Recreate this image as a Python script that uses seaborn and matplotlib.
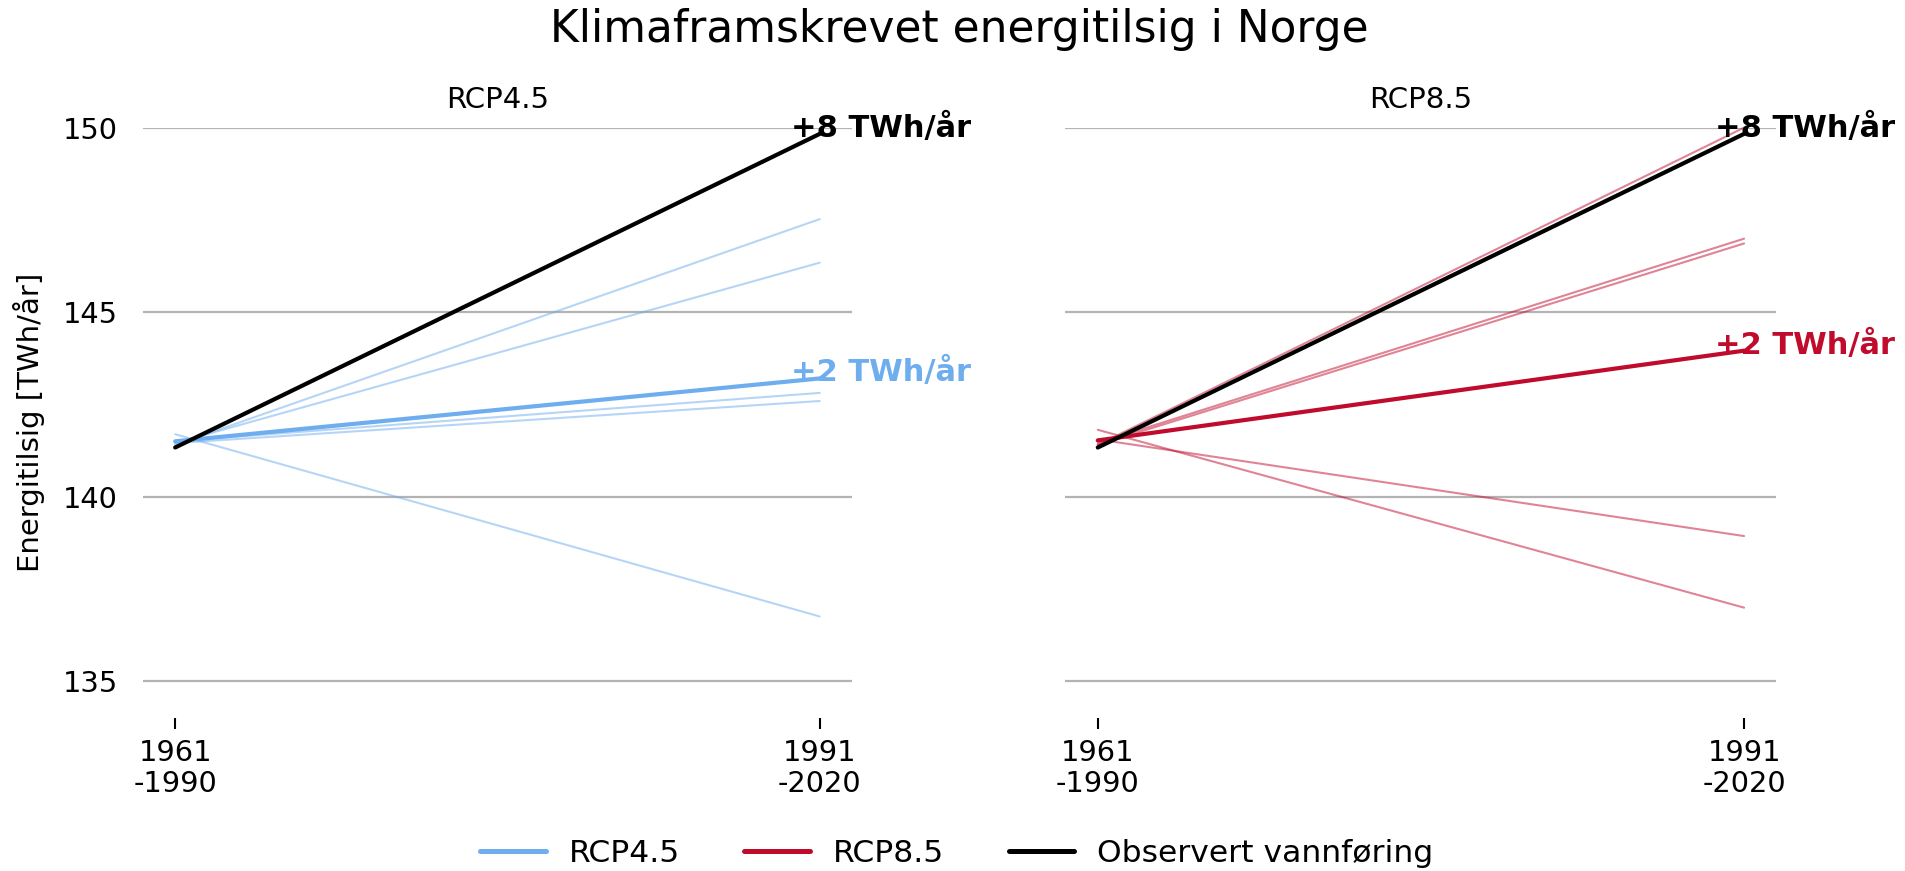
import matplotlib
matplotlib.use("Agg")
import matplotlib.pyplot as plt
from matplotlib.lines import Line2D
import seaborn as sns
import numpy as np
import pandas as pd

# Data (TWh/år)
periods = ["1961\n-1990", "1991\n-2020"]
scenarios = ["RCP4.5", "RCP8.5"]

rcp45_start = [141.40, 141.45, 141.50, 141.45, 141.69]
rcp45_end = [147.52, 146.34, 142.81, 142.59, 136.75]
rcp85_start = [141.40, 141.45, 141.40, 141.81, 141.55]
rcp85_end = [150.00, 146.99, 146.86, 136.99, 138.93]
observed = [141.33, 149.83]

obs_label = "+8 TWh/år"
mean_labels = ["+2 TWh/år", "+2 TWh/år"]
yticks = [135, 140, 145, 150]

colors = {"RCP4.5": "#6EADEE", "RCP8.5": "#C00B2C"}
obs_color = "black"

sns.set_style("white")
plt.rcParams["font.family"] = ["DejaVu Sans"]
plt.rcParams["text.color"] = "black"
plt.rcParams["axes.labelcolor"] = "black"
plt.rcParams["xtick.color"] = "black"
plt.rcParams["ytick.color"] = "black"

fig = plt.figure(figsize=(9.53, 4.355), dpi=200)
ax_l = fig.add_axes([0.075, 0.1757, 0.372, 0.6778])
ax_r = fig.add_axes([0.559, 0.1757, 0.373, 0.6778])

series = {"RCP4.5": (rcp45_start, rcp45_end), "RCP8.5": (rcp85_start, rcp85_end)}
x = np.arange(len(periods))

for ax, scen, mlab in zip([ax_l, ax_r], scenarios, mean_labels):
    starts, ends = series[scen]
    rows = []
    for i, (s, e) in enumerate(zip(starts, ends)):
        rows.append({"model": i, "pos": 0, "value": s})
        rows.append({"model": i, "pos": 1, "value": e})
    df = pd.DataFrame(rows)
    # individual climate models
    sns.lineplot(data=df, x="pos", y="value", units="model", estimator=None,
                 color=colors[scen], alpha=0.5, lw=0.75, ax=ax, clip_on=False)

    # ensemble mean and observations
    mean = [np.mean(starts), np.mean(ends)]
    sns.lineplot(x=x, y=mean, color=colors[scen], lw=1.5, ax=ax, clip_on=False)
    sns.lineplot(x=x, y=observed, color=obs_color, lw=1.5, ax=ax, clip_on=False)

    ax.text(0.955, mean[1] - 0.08, mlab, color=colors[scen], fontsize=11,
            fontweight="bold", ha="left", va="baseline")
    ax.text(0.955, observed[1] - 0.08, obs_label, color=obs_color, fontsize=11,
            fontweight="bold", ha="left", va="baseline")

    ax.set_xlim(-0.05, 1.05)
    ax.set_ylim(134, 150)
    ax.set_xticks(x)
    ax.set_xticklabels(periods, fontsize=10.4, linespacing=1.15)
    ax.set_yticks(yticks)
    ax.yaxis.grid(True, color="#b3b3b3", lw=0.8)
    ax.xaxis.grid(False)
    ax.tick_params(axis="x", length=4, width=0.75, color="black", pad=3.5,
                   bottom=True)
    ax.tick_params(axis="y", length=0, pad=9, labelsize=10.4)
    for sp in ax.spines.values():
        sp.set_visible(False)
    ax.set_xlabel("")
    ax.set_ylabel("")
    ax.set_title(scen, fontsize=10.5, pad=7.2)

ax_r.set_yticklabels([])
ax_l.set_ylabel("Energitilsig [TWh/år]", fontsize=10.5)
ax_l.yaxis.set_label_coords(-0.138, 0.5)

fig.suptitle("Klimaframskrevet energitilsig i Norge", fontsize=15.8,
             x=0.5035, y=0.966, va="center")

handles = [Line2D([], [], color=colors["RCP4.5"], lw=1.8),
           Line2D([], [], color=colors["RCP8.5"], lw=1.8),
           Line2D([], [], color=obs_color, lw=1.8)]
fig.legend(handles, ["RCP4.5", "RCP8.5", "Observert vannføring"], ncol=3,
           loc="center", bbox_to_anchor=(0.502, 0.02), frameon=False,
           fontsize=11.3, handlelength=2.1, handletextpad=0.72,
           columnspacing=2.05)

fig.savefig("out.png", dpi=200)
